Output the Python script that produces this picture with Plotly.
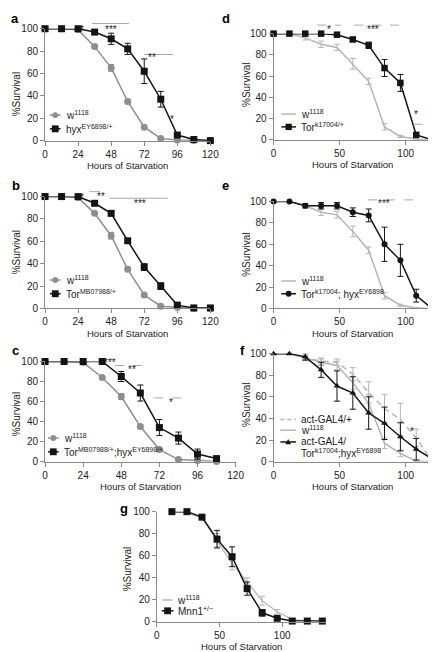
import plotly.graph_objects as go

W, H = 436, 652

# ---------------- data ----------------
HOURS = [0, 12, 24, 36, 48, 60, 72, 84, 96, 108, 120]
HOURS_C = [0, 12, 24, 36, 48, 60, 72, 84, 96, 108]
HOURS_G = [12, 24, 36, 48, 60, 72, 84, 96, 108, 120, 132]

A_W1118 = [100, 100, 99, 84, 65, 35, 12, 2, 0.5, 0, 0]
A_W1118_ERR = [0, 0, 1, 1.5, 3, 2, 1, 0.5, 0, 0, 0]
A_HYX = [100, 100, 100, 97, 91, 82, 62, 37, 5, 1, 0]
A_HYX_ERR = [0, 0, 0, 2, 5, 5, 11, 7, 2, 0.5, 0]

B_W1118 = [100, 100, 99, 85, 65, 35, 12, 2, 1, 0, 0]
B_W1118_ERR = [0, 0, 1, 1, 3, 2, 1, 0.5, 0, 0, 0]
B_TOR = [100, 100, 100, 94, 85, 60.5, 37, 20, 3, 0.5, 0.5]
B_TOR_ERR = [0, 0, 0, 1, 2, 2, 3, 3, 1, 0, 0]

C_W1118 = [100, 100, 99, 84, 65, 35, 12, 2, 1, 0]
C_W1118_ERR = [0, 0, 1, 1, 3, 2, 1, 0.5, 0, 0]
C_TORHYX = [100, 100, 100, 100, 85, 68.5, 34, 23.5, 7.5, 3]
C_TORHYX_ERR = [0, 0, 0, 0, 5, 8, 8, 6, 5, 2]

D_W1118 = [100, 100, 96, 90, 87, 71.5, 55, 12, 3, 0.5, 0]
D_W1118_ERR = [0, 0, 2, 3, 3, 5, 3, 3, 1, 0, 0]
D_TOR = [100, 100, 100, 100, 99, 94.5, 89, 67.5, 53.5, 4.5, 0]
D_TOR_ERR = [0, 0, 0, 0, 1, 2, 3, 8, 8, 2, 0]

E_W1118 = [100, 100, 96, 90, 87.5, 72, 54.5, 12, 3, 0.5, 0]
E_W1118_ERR = [0, 0, 2, 3, 3, 5, 3, 3, 1, 0, 0]
E_TORHYX = [100, 100, 96, 96, 96, 90, 87, 60, 45, 12, 0]
E_TORHYX_ERR = [0, 0, 2, 3, 3, 4, 6, 16, 15, 6, 0]

F_ACT = [100, 100, 96, 93, 92, 81, 64, 49, 39, 22, 0]
F_ACT_ERR = [0, 0, 2, 3, 3, 6, 10, 13, 15, 8, 0]
F_W1118 = [100, 100, 96, 92, 89, 73, 54, 17, 7.5, 0.5, 0]
F_W1118_ERR = [0, 0, 2, 3, 4, 6, 8, 5, 3, 0, 0]
F_ACTTORHYX = [100, 100, 97, 85, 70, 63.5, 45, 35.5, 23, 11.5, 2.5]
F_ACTTORHYX_ERR = [0, 0, 3, 7, 14, 15, 15, 15, 13, 10, 3]

G_W1118 = [100, 99, 94, 74, 53, 36, 19, 9, 2, 0.5, 0]
G_W1118_ERR = [0, 0, 1, 6, 6, 4, 4, 2, 1, 0, 0]
G_MNN1 = [100, 100, 95, 75, 59, 30, 8, 3, 0.5, 0.5, 0.5]
G_MNN1_ERR = [0, 0, 1, 8, 9, 6, 3, 1, 0, 0, 0]

X_TICKS_24 = [0, 24, 48, 72, 96, 120]
X_TICKS_50 = [0, 50, 100]
Y_TICKS = [0, 20, 40, 60, 80, 100]

# ---------------- layout geometry (pixels) ----------------
PANELS = {
    1: dict(x=(35, 205), y=(15, 129), xr=[0, 120], xt=X_TICKS_24),
    2: dict(x=(35, 205), y=(186, 300), xr=[0, 120], xt=X_TICKS_24),
    3: dict(x=(35, 231), y=(354, 456), xr=[0, 120], xt=X_TICKS_24),
    4: dict(x=(270, 433), y=(20, 128), xr=[0, 120], xt=X_TICKS_50),
    5: dict(x=(270, 433), y=(191, 300), xr=[0, 120], xt=X_TICKS_50),
    6: dict(x=(270, 433), y=(346, 456), xr=[0, 120], xt=X_TICKS_50),
    7: dict(x=(150, 324), y=(507, 619), xr=[0, 135], xt=X_TICKS_50),
}

FONT = "Liberation Sans, Arial, sans-serif"
BLACK = "#141414"
GREY = "#8e8e8e"
LGREY = "#b5b5b5"
AXC = "#8a8a8a"


def fx(px):
    return px / W


def fy(py):
    return 1 - py / H


def ax_id(n, letter):
    return letter if n == 1 else f"{letter}{n}"


fig = go.Figure()
layout = {}
for n, p in PANELS.items():
    xa = "xaxis" if n == 1 else f"xaxis{n}"
    ya = "yaxis" if n == 1 else f"yaxis{n}"
    layout[xa] = dict(
        domain=[fx(p["x"][0]), fx(p["x"][1])], range=p["xr"], anchor=ax_id(n, "y"),
        tickvals=p["xt"], showline=True, linecolor=AXC, linewidth=1,
        ticks="outside", ticklen=4, tickcolor=AXC, showgrid=False, zeroline=False,
        tickfont=dict(size=10, color="#222", family=FONT), fixedrange=True,
    )
    layout[ya] = dict(
        domain=[fy(p["y"][1]), fy(p["y"][0])], range=[0, 100], anchor=ax_id(n, "x"),
        tickvals=Y_TICKS, showline=True, linecolor=AXC, linewidth=1,
        ticks="outside", ticklen=4, tickcolor=AXC, showgrid=False, zeroline=False,
        tickfont=dict(size=10, color="#222", family=FONT), fixedrange=True,
    )


def add(n, x, y, err, color, symbol=None, size=7, dash=None, width=1.5):
    mode = "lines+markers" if symbol else "lines"
    fig.add_trace(go.Scatter(
        x=x, y=y, mode=mode, xaxis=ax_id(n, "x"), yaxis=ax_id(n, "y"),
        line=dict(color=color, width=width, dash=dash),
        marker=dict(symbol=symbol or "circle", size=size, color=color, line=dict(width=0)),
        error_y=dict(type="data", array=err, visible=True, color=color, thickness=1, width=3),
        cliponaxis=False, showlegend=False, hoverinfo="skip",
    ))


add(1, HOURS, A_W1118, A_W1118_ERR, GREY, "circle", 7)
add(1, HOURS, A_HYX, A_HYX_ERR, BLACK, "square", 7)
add(2, HOURS, B_W1118, B_W1118_ERR, GREY, "circle", 7)
add(2, HOURS, B_TOR, B_TOR_ERR, BLACK, "square", 7)
add(3, HOURS_C, C_W1118, C_W1118_ERR, GREY, "circle", 7)
add(3, HOURS_C, C_TORHYX, C_TORHYX_ERR, BLACK, "square", 7)
add(4, HOURS, D_W1118, D_W1118_ERR, LGREY)
add(4, HOURS, D_TOR, D_TOR_ERR, BLACK, "square", 6.5)
add(5, HOURS, E_W1118, E_W1118_ERR, LGREY)
add(5, HOURS, E_TORHYX, E_TORHYX_ERR, BLACK, "circle", 6)
add(6, HOURS, F_ACT, F_ACT_ERR, LGREY, dash="6px,4px")
add(6, HOURS, F_W1118, F_W1118_ERR, LGREY)
add(6, HOURS, F_ACTTORHYX, F_ACTTORHYX_ERR, BLACK, "triangle-up", 6)
add(7, HOURS_G, G_W1118, G_W1118_ERR, LGREY, width=1.2)
add(7, HOURS_G, G_MNN1, G_MNN1_ERR, BLACK, "square", 7)

shapes = []
annotations = []


def dref(n, letter):
    return f"{ax_id(n, letter)} domain"


def sig(n, text, xt, yt, x0=None, x1=None, yl=None, dash=None):
    r = PANELS[n]["xr"]
    f = lambda h: (h - r[0]) / (r[1] - r[0])
    if x0 is not None:
        shapes.append(dict(type="line", xref=dref(n, "x"), yref=dref(n, "y"),
                           x0=f(x0), x1=f(x1), y0=yl / 100, y1=yl / 100,
                           line=dict(color="#a8a8a8", width=1, dash=dash)))
    annotations.append(dict(text=text, xref=dref(n, "x"), yref=dref(n, "y"),
                            x=f(xt), y=yt / 100, showarrow=False, yshift=-2.5,
                            font=dict(size=10, color="#222", family=FONT)))


sig(1, "*", 24, 108)
sig(1, "***", 47.8, 108.5, 34, 61, 104.7)
sig(1, "**", 82.3, 83, 72, 93, 77)
sig(1, "*", 95, 14)
sig(2, "*", 24, 108)
sig(2, "**", 36.6, 109, 32, 40, 104.4)
sig(2, "***", 68.7, 103, 46.6, 89.2, 98.5)
sig(3, "***", 36, 109)
sig(3, "**", 55, 102, 44, 65, 96, "dash")
sig(3, "*", 79, 69, 68.7, 89.5, 63.6, "dash")
sig(4, "*", 42, 113.8, 33, 51, 108, "dash")
sig(4, "***", 81, 113.8, 61, 101, 108, "dash")
sig(4, "*", 111, 19.4, 106, 117, 14.5, "dash")
sig(5, "***", 90, 107.6, 71.5, 108.5, 101.5, "dash")
sig(6, "*", 108, 23)


def text(t, x, y, size=10, anchor="left", bold=False, angle=0, color="#222"):
    annotations.append(dict(text=f"<b>{t}</b>" if bold else t, xref="paper", yref="paper",
                            x=fx(x), y=fy(y), xanchor=anchor, yanchor="middle",
                            showarrow=False, textangle=angle,
                            font=dict(size=size, color=color, family=FONT)))


# panel letters
for letter, x, y in [("a", 4, 5), ("b", 5, 175), ("c", 5, 343), ("d", 221, 5),
                     ("e", 221, 175), ("f", 238.5, 343), ("g", 116, 504)]:
    text(letter, x, y, 13, "center", bold=True, color="#000")

# axis titles
for n, p in PANELS.items():
    cx = (p["x"][0] + p["x"][1]) / 2
    ty = min(p["y"][1] + 25, 644)
    text("Hours of Starvation", cx, ty, 9.5, "center")
for x, y in [(6, 82), (6, 243), (6, 408), (242, 72), (242, 245), (242, 398), (120, 566)]:
    text("%Survival", x, y, 10, "center", angle=-90)


def leg(x0, x1, y, color, label, marker=None, dash=None, tx=None, msize=7):
    shapes.append(dict(type="line", xref="paper", yref="paper", x0=fx(x0), x1=fx(x1),
                       y0=fy(y), y1=fy(y), line=dict(color=color, width=1.5, dash=dash)))
    cx = (x0 + x1) / 2
    h = msize / 2
    if marker == "square":
        shapes.append(dict(type="rect", xref="paper", yref="paper", x0=fx(cx - h), x1=fx(cx + h),
                           y0=fy(y + h), y1=fy(y - h), fillcolor=color, line=dict(width=0)))
    elif marker == "circle":
        shapes.append(dict(type="circle", xref="paper", yref="paper", x0=fx(cx - h), x1=fx(cx + h),
                           y0=fy(y + h), y1=fy(y - h), fillcolor=color, line=dict(width=0)))
    elif marker == "triangle":
        path = (f"M{fx(cx - h)},{fy(y + h * 0.8)} L{fx(cx + h)},{fy(y + h * 0.8)} "
                f"L{fx(cx)},{fy(y - h)} Z")
        shapes.append(dict(type="path", xref="paper", yref="paper", path=path,
                           fillcolor=color, line=dict(width=0)))
    if label:
        text(label, tx if tx is not None else x1 + 3, y, 10)


leg(40, 51, 103, GREY, "w<sup>1118</sup>", "circle", msize=6)
leg(40, 51, 117, BLACK, "hyx<sup>EY6898/+</sup>", "square")
leg(40, 51, 271, GREY, "w<sup>1118</sup>", "circle", msize=6)
leg(40, 51, 285, BLACK, "Tor<sup>MB07988/+</sup>", "square")
leg(38, 49, 432, GREY, "w<sup>1118</sup>", "circle", msize=6)
leg(38, 49, 446, BLACK, "Tor<sup>MB07988/+</sup>;hyx<sup>EY6898/+</sup>", "square")
leg(278, 293, 102, LGREY, "w<sup>1118</sup>")
leg(278, 293, 115, BLACK, "Tor<sup>k17004/+</sup>", "square", msize=6.5)
leg(278, 293, 272, LGREY, "w<sup>1118</sup>")
leg(278, 293, 285, BLACK, "Tor<sup>k17004</sup>; hyx<sup>EY6898</sup>", "circle", msize=6)
leg(277, 293, 413, LGREY, "act-GAL4/+", dash="4px,3px")
leg(277, 293, 424, LGREY, "w<sup>1118</sup>")
leg(277, 293, 436, BLACK, "act-GAL4/", "triangle", msize=6)
text("Tor<sup>k17004</sup>;hyx<sup>EY6898</sup>", 296, 447, 10)
leg(156, 166, 597, LGREY, "w<sup>1118</sup>")
leg(155, 167, 608, BLACK, "Mnn1<sup>+/−</sup>", "square")

fig.update_layout(
    width=W, height=H, margin=dict(l=0, r=0, t=0, b=0),
    paper_bgcolor="white", plot_bgcolor="white",
    font=dict(family=FONT, size=10, color="#222"),
    shapes=shapes, annotations=annotations, showlegend=False,
    **layout,
)

fig.write_html("out.html")
